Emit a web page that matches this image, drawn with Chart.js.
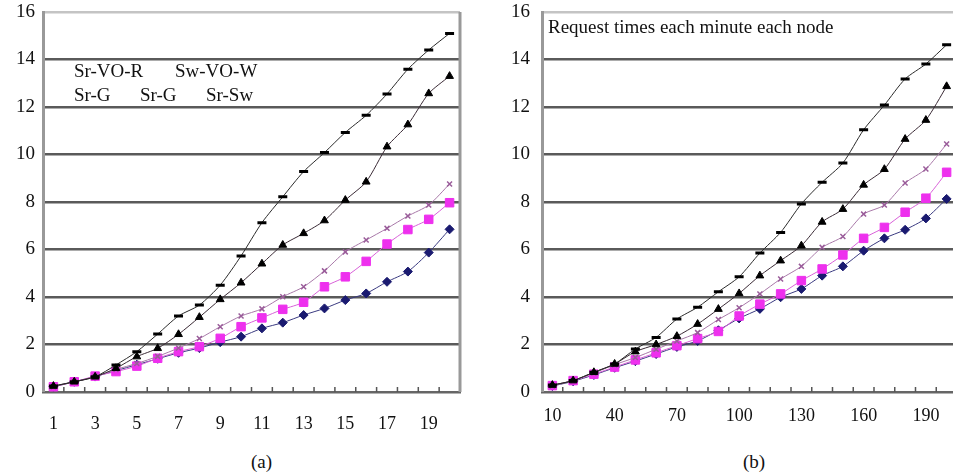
<!DOCTYPE html>
<html><head><meta charset="utf-8">
<script src="https://cdn.jsdelivr.net/npm/chart.js@4.4.1/dist/chart.umd.min.js"></script>
<style>
html,body{margin:0;padding:0;background:#fff;width:953px;height:476px;overflow:hidden;position:relative;}
canvas{position:absolute;top:0;}
.t{position:absolute;font-family:"Liberation Serif","Times New Roman",serif;font-size:19px;line-height:19px;color:#111;white-space:nowrap;}
</style></head><body>
<canvas id="ca" width="470" height="440" style="left:0px"></canvas>
<canvas id="cb" width="485" height="440" style="left:480px"></canvas>
<div class="t" style="left:74px;top:61px">Sr-VO-R</div>
<div class="t" style="left:175px;top:61px">Sw-VO-W</div>
<div class="t" style="left:74px;top:85px">Sr-G</div>
<div class="t" style="left:140px;top:85px">Sr-G</div>
<div class="t" style="left:206px;top:85px">Sr-Sw</div>
<div class="t" style="left:548px;top:17px">Request times each minute each node</div>
<div class="t" style="left:251px;top:452px">(a)</div>
<div class="t" style="left:743px;top:452px">(b)</div>
<script>
// ---- data ----
const categoriesA = ['1','2','3','4','5','6','7','8','9','10','11','12','13','14','15','16','17','18','19','20'];
const categoriesB = ['10','20','30','40','50','60','70','80','90','100','110','120','130','140','150','160','170','180','190','200'];
const yTicks = [0, 2, 4, 6, 8, 10, 12, 14, 16];

// chart (a)
const aDash   = [0.25,0.43,0.64,1.14,1.70,2.44,3.20,3.66,4.50,5.73,7.13,8.22,9.28,10.08,10.93,11.65,12.55,13.59,14.40,15.10];
const aTri    = [0.25,0.43,0.64,1.00,1.49,1.84,2.43,3.15,3.90,4.60,5.40,6.19,6.68,7.22,8.08,8.85,10.33,11.26,12.57,13.30];
const aCross  = [0.22,0.43,0.65,0.95,1.20,1.50,1.85,2.25,2.75,3.20,3.50,4.01,4.43,5.10,5.90,6.40,6.89,7.41,7.87,8.76];
const aSquare = [0.22,0.43,0.67,0.86,1.09,1.42,1.70,1.91,2.26,2.75,3.12,3.48,3.78,4.43,4.85,5.50,6.23,6.84,7.27,7.97];
const aDiam   = [0.22,0.43,0.65,0.90,1.15,1.40,1.65,1.85,2.10,2.33,2.68,2.92,3.24,3.52,3.87,4.15,4.64,5.07,5.87,6.85];

// chart (b)
const bDash   = [0.29,0.48,0.83,1.18,1.81,2.30,3.07,3.57,4.22,4.85,5.85,6.72,7.92,8.83,9.64,11.04,12.08,13.18,13.81,14.62];
const bTri    = [0.29,0.48,0.83,1.18,1.70,2.00,2.35,2.86,3.49,4.15,4.90,5.53,6.16,7.16,7.70,8.72,9.38,10.65,11.45,12.87];
const bCross  = [0.25,0.48,0.80,1.15,1.45,1.80,2.15,2.50,3.05,3.55,4.13,4.76,5.29,6.09,6.55,7.49,7.87,8.80,9.39,10.44];
const bSquare = [0.27,0.48,0.75,1.05,1.35,1.65,1.95,2.25,2.55,3.20,3.70,4.13,4.69,5.18,5.77,6.47,6.93,7.57,8.16,9.25];
const bDiam   = [0.25,0.45,0.72,1.02,1.30,1.60,1.90,2.15,2.60,3.10,3.50,3.99,4.34,4.90,5.29,5.95,6.47,6.83,7.31,8.13];

// ---- styles ----
const styles = [
  {line:'#2a2a2a', pt:'line',     r:4.5, bw:3,   fill:'#000',    bc:'#000'},
  {line:'#3a2a35', pt:'triangle', r:4.5, bw:1,   fill:'#000',    bc:'#000'},
  {line:'#a878a8', pt:'crossRot', r:3.5, bw:1.5, fill:'#9a5c9a', bc:'#9a5c9a'},
  {line:'#d860d8', pt:'rect',     r:6,   bw:1,   fill:'#ee30ee', bc:'#ee30ee'},
  {line:'#3a3a80', pt:'rectRot',  r:4.5, bw:1,   fill:'#1a1a70', bc:'#1a1a70'}
];

const SERIF = '"Liberation Serif","Times New Roman",serif';

const framePlugin = {
  id: 'frame',
  beforeDatasetsDraw(chart) {
    const {ctx, chartArea: a, scales: {x}} = chart;
    ctx.save();
    ctx.strokeStyle = '#999';
    ctx.lineWidth = 3;
    ctx.beginPath();
    ctx.moveTo(a.right, a.top); ctx.lineTo(a.right, a.bottom);
    ctx.stroke();
    ctx.strokeStyle = '#555';
    ctx.lineWidth = 1.5;
    const n = chart.data.labels.length;
    ctx.beginPath();
    for (let i = 1; i < n; i++) {
      const px = (x.getPixelForValue(i - 1) + x.getPixelForValue(i)) / 2;
      ctx.moveTo(px, a.bottom); ctx.lineTo(px, a.bottom - 5);
    }
    ctx.stroke();
    ctx.restore();
  }
};

function makeChart(id, labels, series, yWidth, yPad, xPad, padRight, every) {
  const datasets = series.map((d, k) => {
    const s = styles[k];
    return {
      data: d,
      borderColor: s.line,
      borderWidth: 1,
      tension: 0.25,
      pointStyle: s.pt,
      pointRadius: s.r,
      pointBorderWidth: s.bw,
      pointBackgroundColor: s.fill,
      pointBorderColor: s.bc,
      fill: false
    };
  });
  return new Chart(document.getElementById(id), {
    type: 'line',
    data: {labels, datasets},
    plugins: [framePlugin],
    options: {
      responsive: false,
      devicePixelRatio: 1,
      animation: false,
      layout: {padding: {top: 12, right: padRight, left: 0, bottom: 0}},
      plugins: {legend: {display: false}, tooltip: {enabled: false}},
      scales: {
        x: {
          type: 'category',
          offset: true,
          grid: {display: false},
          border: {display: true, color: '#666', width: 2.5},
          ticks: {
            autoSkip: false, maxRotation: 0, padding: xPad,
            color: '#111', font: {family: SERIF, size: 18},
            callback: (v, i) => (i % every === 0 ? labels[i] : '')
          },
          afterFit: s => { s.height = 48; s.paddingLeft = 0; s.paddingRight = 0; }
        },
        y: {
          min: yTicks[0], max: yTicks[yTicks.length - 1],
          afterBuildTicks: s => { s.ticks = yTicks.map(v => ({value: v})); },
          grid: {
            drawTicks: false,
            color: c => (c.tick && c.tick.value === 16 ? '#c4c4c4' : '#5a5a5a'),
            lineWidth: c => (c.tick && c.tick.value === 0 ? 0 : 2.5)
          },
          border: {display: true, color: '#999', width: 3},
          ticks: {padding: yPad, color: '#111', font: {family: SERIF, size: 19}},
          afterFit: s => { s.width = yWidth; s.paddingTop = 0; s.paddingBottom = 0; }
        }
      }
    }
  });
}

makeChart('ca', categoriesA, [aDash, aTri, aCross, aSquare, aDiam], 43, 8, 13, 10, 2);
makeChart('cb', categoriesB, [bDash, bTri, bCross, bSquare, bDiam], 62, 12, 5, 8, 3);
</script>
</body></html>
